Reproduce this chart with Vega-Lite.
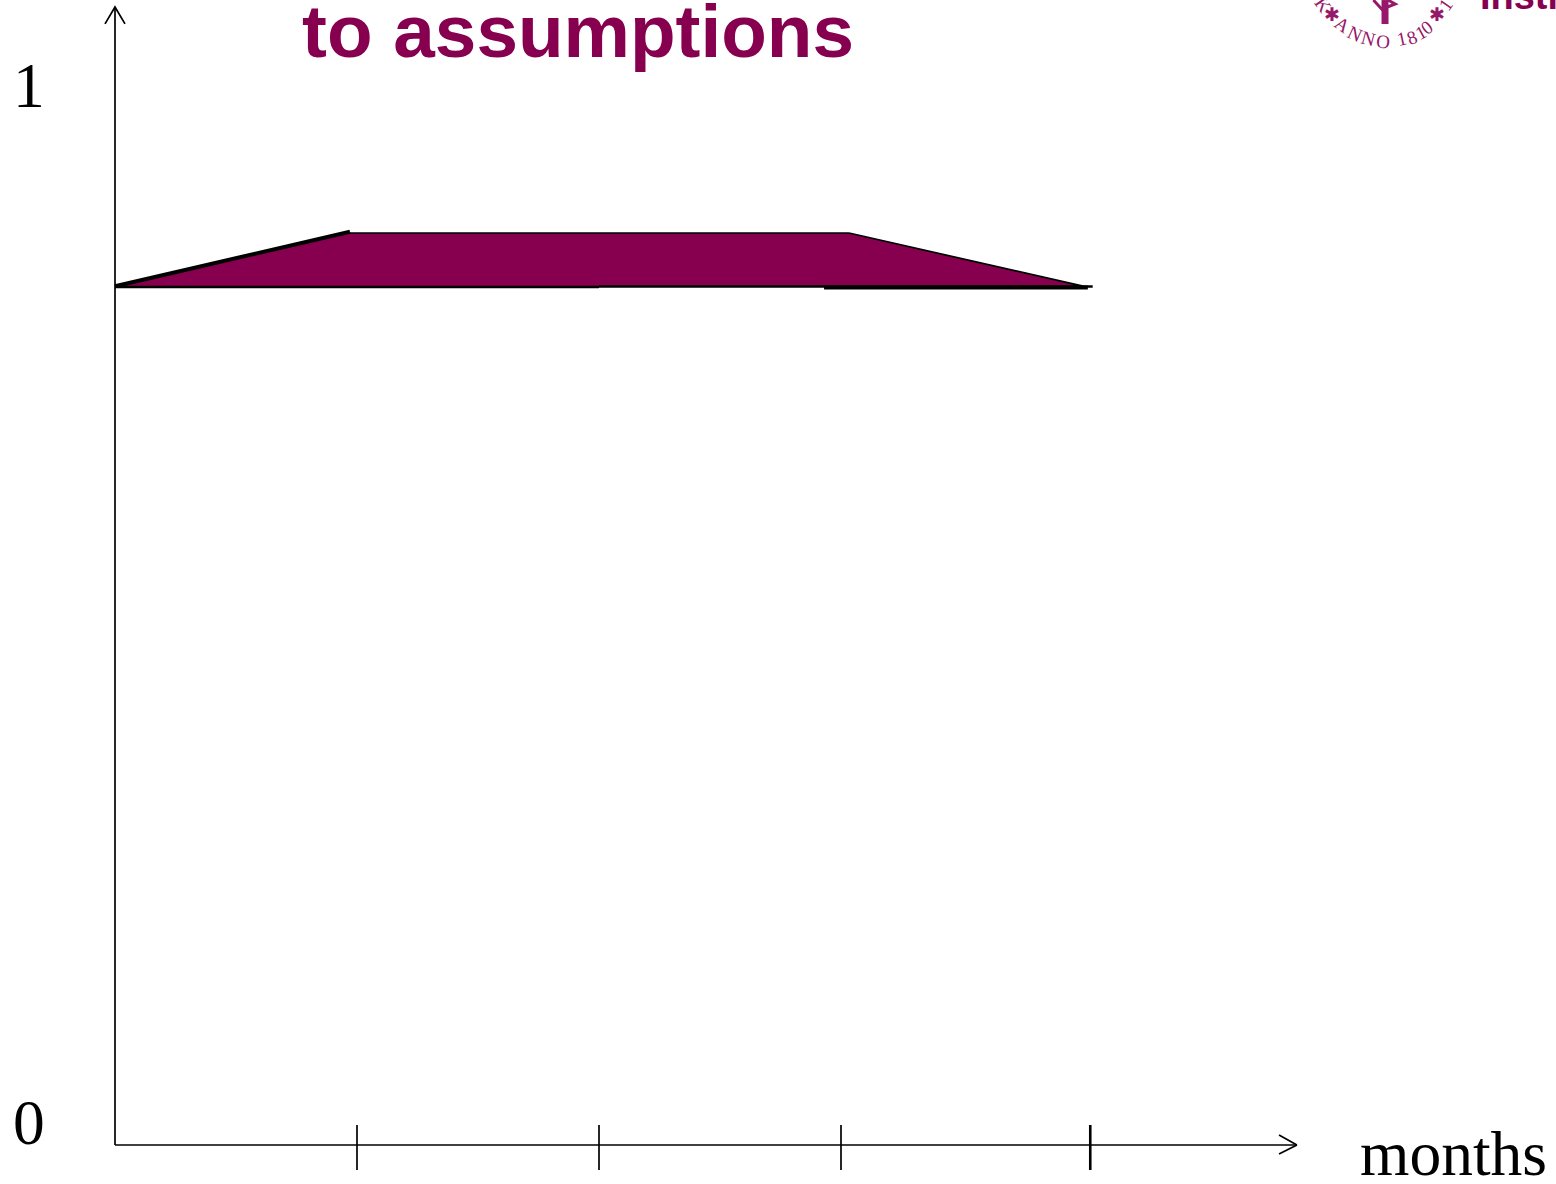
{
"$schema":"https://vega.github.io/schema/vega-lite/v6.json",
"width":1556,"height":1184,
"autosize":{"type":"fit","contains":"padding"},
"padding":0,
"background":"white",
"view":{"stroke":null},
"datasets":{
"fillShape":[{"m":0,"v":0.8117,"b":0.8117},{"m":0.971,"v":0.8628,"b":0.8117},{"m":3.033,"v":0.8628,"b":0.8117},{"m":4.02,"v":0.8117,"b":0.8117}],
"thin":[
{"s":"yaxis","m":0,"v":0},{"s":"yaxis","m":0,"v":1.0766},
{"s":"yhead","m":-0.0413,"v":1.0606},{"s":"yhead","m":0,"v":1.0766},{"s":"yhead","m":0.0413,"v":1.0606},
{"s":"xaxis","m":0,"v":0},{"s":"xaxis","m":4.884,"v":0},
{"s":"xheadA","m":4.81,"v":0.00946},{"s":"xheadA","m":4.884,"v":0},
{"s":"xheadB","m":4.81,"v":-0.0085},{"s":"xheadB","m":4.884,"v":0},
{"s":"t1","m":1,"v":0.0189},{"s":"t1","m":1,"v":-0.02365},
{"s":"t2","m":2,"v":0.0189},{"s":"t2","m":2,"v":-0.02365},
{"s":"t3","m":3,"v":0.0189},{"s":"t3","m":3,"v":-0.02365},
{"s":"top","m":0.95,"v":0.8628},{"s":"top","m":3.033,"v":0.8628},
{"s":"down","m":3.033,"v":0.8628},{"s":"down","m":4.0,"v":0.8125}
],
"medium":[
{"s":"base","m":0,"v":0.8117},{"s":"base","m":2.0,"v":0.8117},
{"s":"base2","m":2.0,"v":0.8122},{"s":"base2","m":4.04,"v":0.8122},
{"s":"t4","m":4.03,"v":0.0189},{"s":"t4","m":4.03,"v":-0.02365}
],
"thick":[
{"s":"rise","m":0,"v":0.8125},{"s":"rise","m":0.971,"v":0.8640},
{"s":"base3","m":2.93,"v":0.8112},{"s":"base3","m":4.02,"v":0.8112}
],
"serif":[
{"m":-0.421,"v":0.982,"t":"1"},
{"m":-0.421,"v":0.001,"t":"0"},
{"m":5.145,"v":-0.028,"t":"months"}
],
"logoChars":[
{"m":4.99,"v":1.0785,"t":"K","a":55},
{"m":5.029,"v":1.0690,"t":"✱","a":0},
{"m":5.07,"v":1.0596,"t":"A","a":35},
{"m":5.123,"v":1.0510,"t":"N","a":25},
{"m":5.178,"v":1.0463,"t":"N","a":15},
{"m":5.24,"v":1.0435,"t":"O","a":5},
{"m":5.318,"v":1.0463,"t":"1","a":-12},
{"m":5.36,"v":1.0473,"t":"8","a":-20},
{"m":5.397,"v":1.0520,"t":"1","a":-28},
{"m":5.422,"v":1.0569,"t":"0","a":-36},
{"m":5.463,"v":1.0690,"t":"✱","a":0},
{"m":5.5,"v":1.0786,"t":"1","a":-55}
],
"staff":[
{"m":5.248,"v":1.0832,"b":1.0605}
],
"curl":[
{"s":"c","i":1,"m":5.2,"v":1.0832},{"s":"c","i":2,"m":5.235,"v":1.0745},{"s":"c","i":3,"m":5.29,"v":1.0795},{"s":"c","i":4,"m":5.26,"v":1.0832}
]
},
"encoding":{
"x":{"field":"m","type":"quantitative","scale":{"domain":[-0.47521,5.95455],"nice":false,"zero":false},"axis":null},
"y":{"field":"v","type":"quantitative","scale":{"domain":[-0.0369,1.08325],"nice":false,"zero":false},"axis":null}
},
"layer":[
{"data":{"name":"fillShape"},"mark":{"type":"area","color":"#87004f","clip":true},"encoding":{"y2":{"field":"b"}}},
{"data":{"name":"thin"},"mark":{"type":"line","color":"black","strokeWidth":1.7,"clip":true},"encoding":{"detail":{"field":"s"}}},
{"data":{"name":"medium"},"mark":{"type":"line","color":"black","strokeWidth":2.6,"clip":true},"encoding":{"detail":{"field":"s"}}},
{"data":{"name":"thick"},"mark":{"type":"line","color":"black","strokeWidth":4,"clip":true},"encoding":{"detail":{"field":"s"}}},
{"data":{"name":"serif"},"mark":{"type":"text","font":"Liberation Serif","fontSize":63.5,"align":"left","baseline":"alphabetic","color":"black","clip":true},"encoding":{"text":{"field":"t"}}},
{"data":{"values":[{"m":0.773,"v":1.029,"t":"to assumptions"}]},"mark":{"type":"text","font":"Liberation Sans","fontWeight":"bold","fontSize":74.7,"align":"left","baseline":"alphabetic","color":"#87004f","clip":true},"encoding":{"text":{"field":"t"}}},
{"data":{"values":[{"m":5.64,"v":1.0747,"t":"Institute"}]},"mark":{"type":"text","font":"Liberation Sans","fontWeight":"bold","fontSize":38,"align":"left","baseline":"alphabetic","color":"#87004f","clip":true},"encoding":{"text":{"field":"t"}}},
{"data":{"name":"logoChars"},"mark":{"type":"text","font":"Liberation Serif","fontSize":19,"align":"center","baseline":"middle","color":"#97176a","clip":true},"encoding":{"text":{"field":"t"},"angle":{"field":"a","type":"quantitative","scale":null}}},
{"data":{"name":"staff"},"mark":{"type":"rule","color":"#97176a","strokeWidth":7,"clip":true},"encoding":{"y2":{"field":"b"}}},
{"data":{"name":"curl"},"mark":{"type":"line","color":"#97176a","strokeWidth":3,"clip":true},"encoding":{"detail":{"field":"s"},"order":{"field":"i"}}}
]
}
